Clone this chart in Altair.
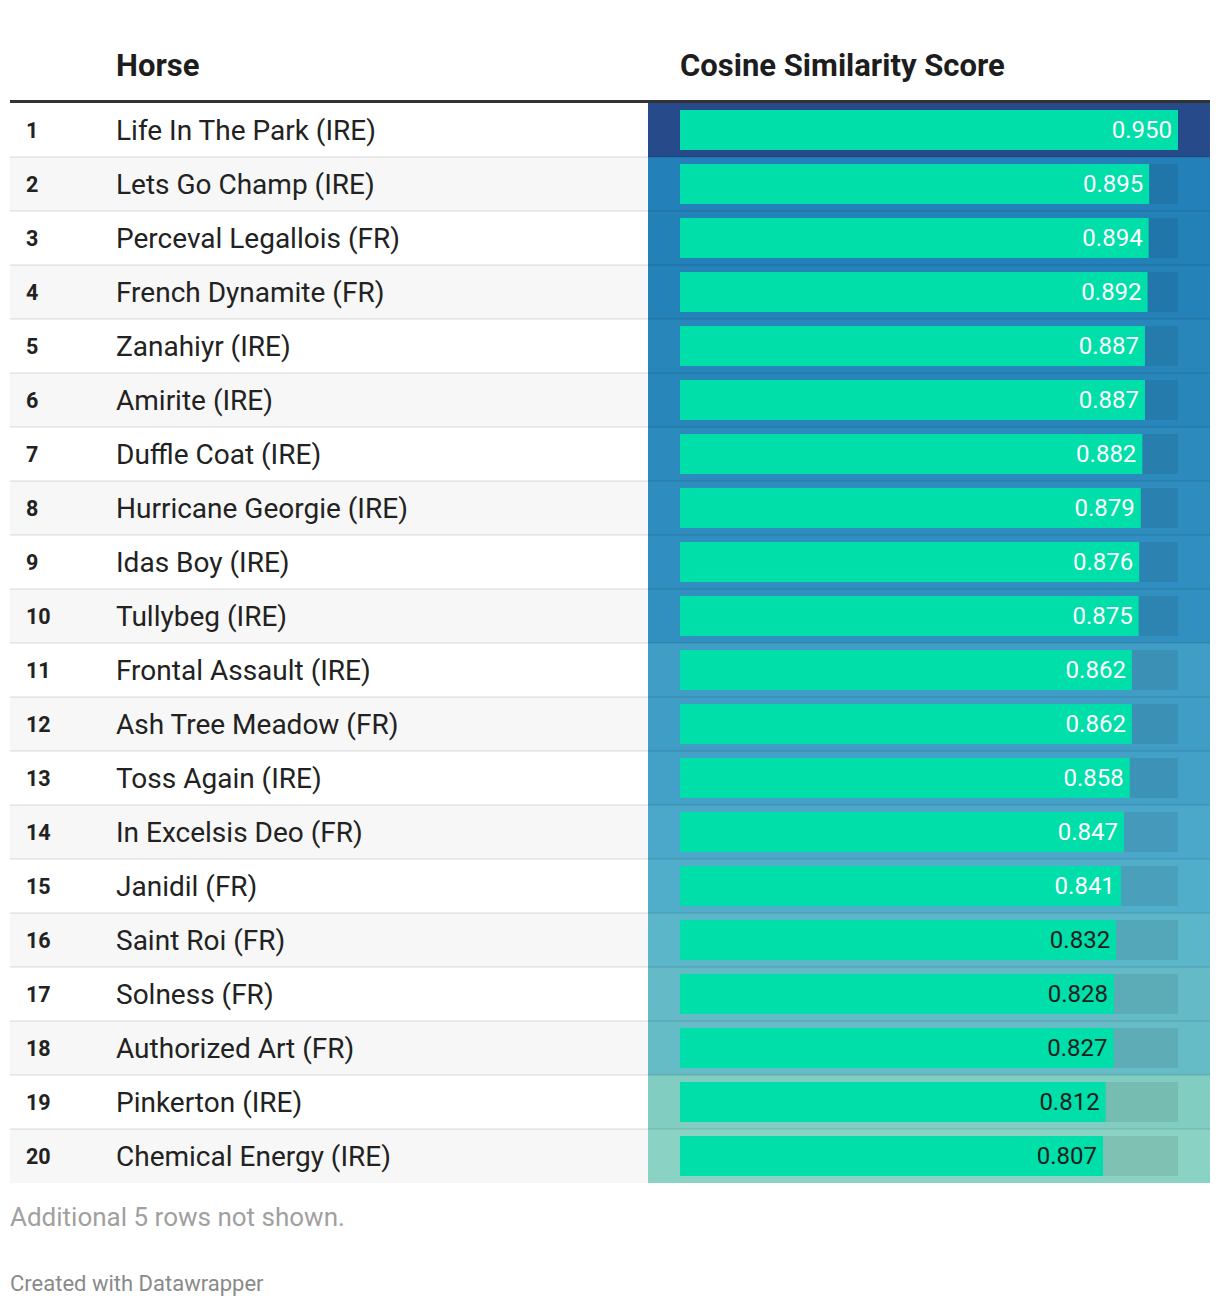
import altair as alt
import pandas as pd

ranks = list(range(1, 21))
horses = [
    "Life In The Park (IRE)", "Lets Go Champ (IRE)", "Perceval Legallois (FR)",
    "French Dynamite (FR)", "Zanahiyr (IRE)", "Amirite (IRE)", "Duffle Coat (IRE)",
    "Hurricane Georgie (IRE)", "Idas Boy (IRE)", "Tullybeg (IRE)",
    "Frontal Assault (IRE)", "Ash Tree Meadow (FR)", "Toss Again (IRE)",
    "In Excelsis Deo (FR)", "Janidil (FR)", "Saint Roi (FR)", "Solness (FR)",
    "Authorized Art (FR)", "Pinkerton (IRE)", "Chemical Energy (IRE)",
]
scores = [0.950, 0.895, 0.894, 0.892, 0.887, 0.887, 0.882, 0.879, 0.876, 0.875,
          0.862, 0.862, 0.858, 0.847, 0.841, 0.832, 0.828, 0.827, 0.812, 0.807]

header_labels = ["Horse", "Cosine Similarity Score"]
notes = ["Additional 5 rows not shown.", "Created with Datawrapper"]

df = pd.DataFrame({"rank": ranks, "horse": horses, "score": scores})
df["track"] = max(scores)

FONT = "Roboto"
W = 1200
H = 1080

yenc = alt.Y("rank:O", scale=alt.Scale(paddingInner=0, paddingOuter=0), axis=None)
xscale = alt.Scale(domain=[0, max(scores)], range=[670, 1168], nice=False, zero=True)

color_scale = alt.Scale(
    type="linear",
    domain=[0.807, 0.812, 0.827, 0.832, 0.847, 0.862, 0.875, 0.895, 0.950],
    range=["#8ad2c3", "#81cdc1", "#66bcc6", "#5cb6c9", "#4ba8cb", "#409dc6",
           "#3190c0", "#2380b8", "#274a8a"],
)

base = alt.Chart(df)

stripes = base.transform_filter("datum.rank % 2 == 0").mark_rect(color="#f7f7f7").encode(
    y=yenc, x=alt.value(0), x2=alt.value(638)
)

heat = base.mark_rect().encode(
    y=yenc, x=alt.value(638), x2=alt.value(W),
    color=alt.Color("score:Q", scale=color_scale, legend=None),
)

track = base.mark_bar(size=40, color="#000000", opacity=0.08).encode(
    y=yenc, x=alt.X("track:Q", scale=xscale, axis=None)
)

bars = base.mark_bar(size=40, color="#00dea9").encode(
    y=yenc, x=alt.X("score:Q", scale=xscale, axis=None)
)

seps = base.transform_filter("datum.rank < 20").mark_rule(
    color="#000000", opacity=0.07, strokeWidth=2
).encode(
    y=alt.Y("rank:O", bandPosition=1, scale=alt.Scale(paddingInner=0, paddingOuter=0), axis=None),
    x=alt.value(0), x2=alt.value(W),
)

rank_text = base.mark_text(
    align="left", baseline="middle", font=FONT, fontWeight="bold", fontSize=21.5,
    color="#222222", dy=2
).encode(y=yenc, x=alt.value(16), text="rank:O")

horse_text = base.mark_text(
    align="left", baseline="middle", font=FONT, fontSize=28, color="#222222", dy=2
).encode(y=yenc, x=alt.value(106), text="horse:N")

value_text = base.mark_text(
    align="right", baseline="middle", font=FONT, fontSize=24, dx=-6, dy=1
).encode(
    y=yenc,
    x=alt.X("score:Q", scale=xscale, axis=None),
    text=alt.Text("score:Q", format=".3f"),
    color=alt.condition("datum.score > 0.835", alt.value("#ffffff"), alt.value("#1d1d1d")),
)

hdr_df = pd.DataFrame({"label": header_labels, "pos": [106, 670]})
header = alt.Chart(hdr_df).mark_text(
    align="left", baseline="middle", font=FONT, fontWeight="bold", fontSize=31, color="#1d1d1d"
).encode(x=alt.X("pos:Q", scale=None, axis=None), y=alt.value(-36), text="label:N")

header_line = alt.Chart(hdr_df.head(1)).mark_rule(color="#333333", strokeWidth=3).encode(
    x=alt.value(0), x2=alt.value(W), y=alt.value(-1.5)
)

note_df = pd.DataFrame({"note": notes})
note1 = alt.Chart(note_df.head(1)).mark_text(
    align="left", baseline="middle", font=FONT, fontSize=26, color="#a0a0a0"
).encode(x=alt.value(0), y=alt.value(H + 35), text="note:N")
note2 = alt.Chart(note_df.tail(1)).mark_text(
    align="left", baseline="middle", font=FONT, fontSize=22, color="#8a8a8a"
).encode(x=alt.value(0), y=alt.value(H + 101), text="note:N")

chart = alt.layer(
    stripes, heat, track, bars, seps, rank_text, horse_text, value_text,
    header, header_line, note1, note2
).resolve_scale(color="independent").properties(
    width=W, height=H,
    padding={"left": 2, "top": 95, "right": 2, "bottom": 115},
    autosize=alt.AutoSizeParams(type="none"),
    background="#ffffff",
).configure_view(stroke=None)

chart.save("out.html", embed_options={"renderer": "svg", "actions": False})
